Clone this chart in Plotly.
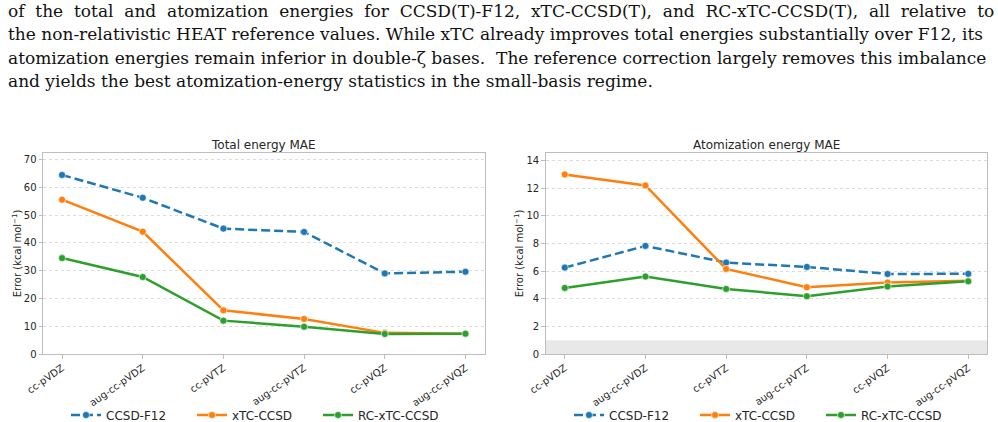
import plotly.graph_objects as go

basis = ["cc-pVDZ", "aug-cc-pVDZ", "cc-pVTZ", "aug-cc-pVTZ", "cc-pVQZ", "aug-cc-pVQZ"]

total_f12 = [64.4, 56.2, 45.1, 43.9, 29.0, 29.6]
total_xtc = [55.5, 44.0, 15.7, 12.6, 7.6, 7.3]
total_rc = [34.5, 27.7, 12.0, 9.8, 7.2, 7.3]

atom_f12 = [6.25, 7.82, 6.61, 6.30, 5.79, 5.80]
atom_xtc = [12.99, 12.19, 6.15, 4.83, 5.17, 5.29]
atom_rc = [4.78, 5.60, 4.71, 4.18, 4.88, 5.26]

series_names = ["CCSD-F12", "xTC-CCSD", "RC-xTC-CCSD"]
colors = ["#1f77b4", "#ff7f0e", "#2ca02c"]
dashes = ["9px,4px", "solid", "solid"]

chem_acc = [0, 1]

caption = [
    "of the total and atomization energies for CCSD(T)-F12, xTC-CCSD(T), and RC-xTC-CCSD(T), all relative to",
    "the non-relativistic HEAT reference values. While xTC already improves total energies substantially over F12, its",
    "atomization energies remain inferior in double-ζ bases.  The reference correction largely removes this imbalance",
    "and yields the best atomization-energy statistics in the small-basis regime.",
]
# extra inter-word padding per caption line (justified text)
caption_pad = ["\u00a0", "", "", None]

W, H = 998, 422
fig = go.Figure()

def add_series(data, xa, ya, legend):
    for name, vals, c, d in zip(series_names, data, colors, dashes):
        fig.add_trace(go.Scatter(
            x=basis, y=vals, name=name, mode="lines+markers",
            line=dict(color=c, width=2.5, dash=d),
            marker=dict(color=c, size=7, line=dict(color="white", width=0.6)),
            xaxis=xa, yaxis=ya, legend=legend,
        ))

add_series([total_f12, total_xtc, total_rc], "x", "y", "legend")
add_series([atom_f12, atom_xtc, atom_rc], "x2", "y2", "legend2")

ydom = [1 - 354 / H, 1 - 153 / H]
xdom1 = [43 / W, 484.5 / W]
xdom2 = [545.7 / W, 987.3 / W]

axis_common = dict(
    showline=True, mirror=True, linecolor="#bdbdbd", linewidth=1,
    ticks="outside", ticklen=3.5, tickcolor="#bdbdbd", tickwidth=1,
    tickfont=dict(family="DejaVu Sans", size=10, color="#262626"),
    zeroline=False, automargin=False,
)
ytitle = dict(text="Error (kcal mol<sup>−1</sup>)", standoff=0,
              font=dict(family="DejaVu Sans", size=10, color="#262626"))
legend_common = dict(orientation="h", xanchor="left", yanchor="middle",
                     y=1 - 415 / H, font=dict(family="DejaVu Sans", size=12, color="#262626"),
                     bgcolor="rgba(0,0,0,0)", entrywidth=81, entrywidthmode="pixels")

fig.update_layout(
    width=W, height=H,
    margin=dict(l=0, r=0, t=0, b=0, autoexpand=False),
    paper_bgcolor="white", plot_bgcolor="white",
    font=dict(family="DejaVu Sans", color="#262626"),
    xaxis=dict(domain=xdom1, anchor="y", range=[-0.236, 5.236], showgrid=False,
               tickangle=-35, **axis_common),
    yaxis=dict(domain=ydom, anchor="x", range=[0, 72.3], dtick=10,
               showgrid=True, gridcolor="#dcdcdc", griddash="dot", gridwidth=1,
               title=ytitle, **axis_common),
    xaxis2=dict(domain=xdom2, anchor="y2", range=[-0.236, 5.236], showgrid=False,
                tickangle=-35, **axis_common),
    yaxis2=dict(domain=ydom, anchor="x2", range=[0, 14.54], dtick=2,
                showgrid=True, gridcolor="#dcdcdc", griddash="dot", gridwidth=1,
                title=ytitle, **axis_common),
    legend=dict(x=66 / W, **legend_common),
    legend2=dict(x=569 / W, **legend_common),
)

fig.add_shape(type="rect", xref="x2 domain", yref="y2", x0=0, x1=1,
              y0=chem_acc[0], y1=chem_acc[1], fillcolor="#e8e8e8",
              line=dict(width=0), layer="below")

for txt, dom in [("Total energy MAE", xdom1), ("Atomization energy MAE", xdom2)]:
    fig.add_annotation(text=txt, xref="paper", yref="paper",
                       x=(dom[0] + dom[1]) / 2, y=1 - 145 / H,
                       xanchor="center", yanchor="middle", showarrow=False,
                       font=dict(family="DejaVu Sans", size=12, color="#262626"))

for i, (line, pad) in enumerate(zip(caption, caption_pad)):
    if pad:
        line = line.replace(" ", " " + pad)
    fig.add_annotation(text=line, xref="paper", yref="paper",
                       x=6 / W, y=1 - (11 + 23.5 * i) / H,
                       xanchor="left", yanchor="middle", showarrow=False,
                       font=dict(family="DejaVu Serif", size=17, color="#111111"))

fig.write_html("out.html")
